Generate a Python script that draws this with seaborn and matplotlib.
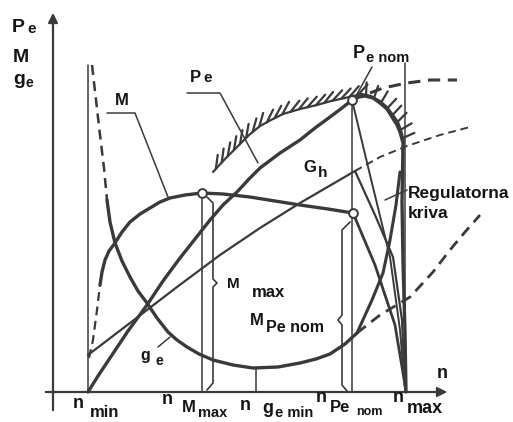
#!/usr/bin/env python3
"""Engine speed characteristic (Pe, M, ge vs n) with governor curve."""

import matplotlib

matplotlib.use("Agg")

import matplotlib.pyplot as plt
import matplotlib.patheffects as pe
import seaborn as sns

sns.set_theme(style="white")
plt.rcParams["font.family"] = ["Liberation Sans", "DejaVu Sans"]

INK = "#3a3a3a"
TXT = "#151515"

# data units: n along x (0 = axis origin), value along y
PE_N = [35, 45, 57, 75, 94, 110, 127, 142, 157, 170, 184, 196, 207, 227, 247, 262, 277,
        289, 299, 306, 312, 320, 327, 334, 339, 344, 347, 350, 349, 350, 352, 353]
PE_V = [0, 16, 34, 61, 87, 111, 134, 153, 172, 187, 200, 213, 224, 239, 252, 264, 275,
        284, 292, 295, 296, 294, 289, 283, 275, 267, 260, 249, 190, 130, 60, 0]
PE_DASH_N = [317, 330, 354, 377, 404]
PE_DASH_V = [299, 304, 309, 312, 312]
LIMIT_N = [160, 172, 184, 196, 207, 218, 230, 247, 264, 278, 292, 300, 309]
LIMIT_V = [220, 233, 245, 257, 266, 272, 278, 283, 287, 291, 294, 296, 298]
LIMIT_R_N = [309, 318, 327, 334, 340, 345, 348, 351]
LIMIT_R_V = [298, 296, 291, 285, 277, 270, 262, 250]

M_DASH_N = [36, 40, 44, 47]
M_DASH_V = [34, 52, 82, 107]
M_N = [47, 49, 52, 56, 62, 69, 77, 87, 97, 107, 117, 132, 149, 170, 197, 222, 247, 275, 300]
M_V = [107, 120, 132, 141, 149, 160, 170, 178, 184, 190, 194, 197, 199, 198, 195, 191, 187, 183, 179]
M_REG_N = [300, 322, 342, 352]
M_REG_V = [179, 127, 67, 7]

GE_DASH_N = [39, 43, 47, 51, 54]
GE_DASH_V = [327, 292, 257, 224, 192]
GE_N = [54, 57, 62, 69, 77, 85, 94, 104, 115, 124, 134, 146, 160, 180, 200, 225, 247,
        263, 277, 292, 304]
GE_V = [192, 170, 149, 131, 115, 101, 89, 74, 60, 52, 45, 38, 32, 27, 24, 25, 29,
        33, 38, 48, 59]
GE_TAIL_N = [304, 327, 357, 380, 397, 412, 427]
GE_TAIL_V = [59, 77, 95, 120, 142, 160, 177]
GE_REG_N = [304, 319, 330, 337, 343, 347]
GE_REG_V = [59, 92, 119, 152, 187, 220]

GH_N = [35, 94, 124, 167, 207, 247, 302]
GH_V = [37, 82, 105, 137, 164, 189, 221]
GH_DASH_N = [302, 327, 354, 387, 417]
GH_DASH_V = [221, 235, 246, 257, 265]
GH_REG_N = [302, 322, 340, 349, 352]
GH_REG_V = [221, 177, 135, 72, 4]
PNOM_REG_N = [299, 317, 337, 347, 352]
PNOM_REG_V = [292, 217, 135, 62, 4]

# characteristic speeds and the top of their marker lines
N_MARK = {"min": 35, "Mmax": 149, "gemin": 203, "Penom": 299, "max": 352}
N_MARK_TOP = {"min": 327, "Mmax": 199, "gemin": 24, "Penom": 292, "max": 329}
POINTS_N = [149, 299, 300]
POINTS_V = [199, 292, 179]


def curve(ax, xs, ys, lw, ls="-", **kw):
    sns.lineplot(x=xs, y=ys, sort=False, estimator=None, ax=ax, color=INK,
                 linewidth=lw, linestyle=ls, solid_capstyle="round", **kw)


def label(ax, x, y, s, size):
    ax.text(x, y, s, fontsize=size, fontweight="bold", color=TXT,
            ha="left", va="baseline")


fig = plt.figure(figsize=(5.13, 4.22), dpi=100)
ax = fig.add_axes([0, 0, 1, 1])
ax.set_xlim(-53, 460)
ax.set_ylim(-30, 392)
ax.set_axis_off()

# axes with arrows
ax.annotate("", xy=(0, 382), xytext=(0, -21),
            arrowprops=dict(arrowstyle="-|>", color=INK, lw=1.6, mutation_scale=14))
ax.annotate("", xy=(397, 0), xytext=(-10, 0),
            arrowprops=dict(arrowstyle="-|>", color=INK, lw=1.6, mutation_scale=14))

# speed marker lines
for key, n in N_MARK.items():
    curve(ax, [n, n], [0, N_MARK_TOP[key]], 1.1)

dash = (0, (4, 2.5))
curve(ax, PE_N, PE_V, 2.4)
curve(ax, PE_DASH_N, PE_DASH_V, 2.2, ls=dash)
curve(ax, LIMIT_N, LIMIT_V, 1.6,
      path_effects=[pe.withTickedStroke(spacing=6, angle=35, length=1.7)])
curve(ax, LIMIT_R_N, LIMIT_R_V, 1.6,
      path_effects=[pe.withTickedStroke(spacing=6, angle=100, length=1.5)])
curve(ax, M_DASH_N, M_DASH_V, 1.6, ls=dash)
curve(ax, M_N, M_V, 2.4)
curve(ax, M_REG_N, M_REG_V, 2.0)
curve(ax, GE_DASH_N, GE_DASH_V, 1.8, ls=dash)
curve(ax, GE_N, GE_V, 2.4)
curve(ax, GE_TAIL_N, GE_TAIL_V, 2.0, ls=dash)
curve(ax, GE_REG_N, GE_REG_V, 2.2)
curve(ax, GH_N, GH_V, 1.6)
curve(ax, GH_DASH_N, GH_DASH_V, 1.4, ls=dash)
curve(ax, GH_REG_N, GH_REG_V, 1.6)
curve(ax, PNOM_REG_N, PNOM_REG_V, 1.4)

# braces for M max and M Pe nom
curve(ax, [154, 160, 160, 164, 160, 160, 154], [195, 189, 113, 109, 105, 9, 2], 1.2)
curve(ax, [297, 289, 289, 285, 289, 289, 294], [170, 162, 77, 72, 67, 7, 1], 1.2)

# leader lines
curve(ax, [134, 167, 205], [299, 299, 229], 1.1)
curve(ax, [54, 82, 115], [279, 279, 195], 1.1)
curve(ax, [105, 117], [45, 55], 1.1)
curve(ax, [319, 303], [325, 296], 1.1)
curve(ax, [332, 354], [192, 202], 1.1)

sns.scatterplot(x=POINTS_N, y=POINTS_V, ax=ax, s=40, color="white",
                edgecolor=INK, linewidth=1.4, zorder=5)

# axis titles
label(ax, -41, 360, "P", 14)
label(ax, -26, 359, "e", 11)
label(ax, -40, 330, "M", 14)
label(ax, -40, 308, "g", 14)
label(ax, -28, 305, "e", 10)
label(ax, 384, 14, "n", 13)

# curve names
label(ax, 137, 310, "P", 12)
label(ax, 150, 310, "e", 11)
label(ax, 62, 287, "M", 12)
label(ax, 300, 334, "P", 13)
label(ax, 313, 330, "e nom", 10.5)
label(ax, 250, 220, "G", 12)
label(ax, 265, 215, "h", 11)
label(ax, 355, 194, "Regulatorna", 12.5)
label(ax, 355, 174, "kriva", 12.5)
label(ax, 174, 104, "M", 11)
label(ax, 199, 95, "max", 12)
label(ax, 197, 67, "M", 12)
label(ax, 213, 60, "Pe nom", 11.5)
label(ax, 87, 32, "g", 11.5)
label(ax, 102, 27, "e", 10)

# speed labels under the axis
label(ax, 20, -16, "n", 13)
label(ax, 37, -25, "min", 12)
label(ax, 109, -12, "n", 13)
label(ax, 129, -20, "M", 12)
label(ax, 145, -25, "max", 10.5)
label(ax, 187, -18, "n", 13)
label(ax, 209, -21, "g", 13)
label(ax, 222, -25, "e min", 10.5)
label(ax, 263, -10, "n", 13)
label(ax, 277, -20, "Pe", 12)
label(ax, 303, -23, "nom", 9)
label(ax, 340, -10, "n", 13)
label(ax, 354, -21, "max", 13)

fig.savefig("out.png", dpi=100, facecolor="white")
